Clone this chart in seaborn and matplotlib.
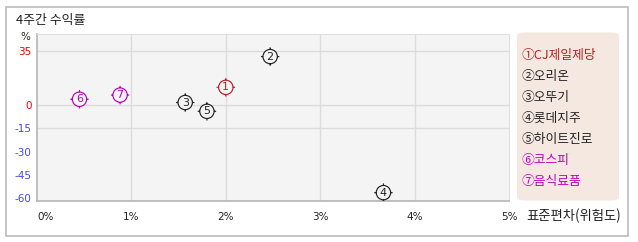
import matplotlib
matplotlib.use("Agg")
import matplotlib.pyplot as plt
import seaborn as sns
import pandas as pd
from matplotlib.path import Path
from matplotlib.patches import Rectangle, FancyBboxPatch

# ---- data ----
names = ["CJ제일제당", "오리온", "오뚜기", "롯데지주", "하이트진로", "코스피", "음식료품"]
nums = ["①", "②", "③", "④", "⑤", "⑥", "⑦"]
std_dev = [2.00, 2.47, 1.57, 3.67, 1.80, 0.45, 0.88]      # x, %
ret_4w = [11.5, 31.4, 1.7, -56.6, -4.0, 3.8, 6.5]          # y, %
colors = ["#b22222", "#222222", "#222222", "#222222", "#222222", "#bb00bb", "#bb00bb"]
legend_colors = ["#b82020", "#222222", "#222222", "#222222", "#222222", "#c000c0", "#c000c0"]
x_ticks = [0, 1, 2, 3, 4, 5]
x_ticklabels = ["0%", "1%", "2%", "3%", "4%", "5%"]
y_ticks = [35, 0, -15, -30, -45, -60]
y_ticklabels = ["35", "0", "-15", "-30", "-45", "-60"]
y_tick_colors = ["#ee0000", "#ee0000", "#4444ee", "#4444ee", "#4444ee", "#4444ee"]
grid_y = [35, 0, -15]
grid_x = [1, 2, 3, 4]

df = pd.DataFrame({"name": names, "num": nums, "x": std_dev, "y": ret_4w})

sns.set_theme(style="white")
KFONT = ["Noto Sans CJK KR", "DejaVu Sans"]
plt.rcParams["font.family"] = KFONT

W, H = 638, 242
fig = plt.figure(figsize=(W / 100, H / 100), dpi=100)

def fx(px):
    return px / W

def fy(py):
    return 1 - py / H

# outer frame
fig.patches.append(Rectangle((fx(6), fy(236)), fx(622), 229 / H, transform=fig.transFigure,
                             fill=False, ec="#bbbbbb", lw=1.2))

ax = fig.add_axes([fx(37), fy(201), 472 / W, 167 / H])
ax.set_facecolor("#f4f4f4")
ax.set_xlim(0, 5)
ax.set_ylim(-62, 46)
for g in grid_y:
    ax.axhline(g, color="#dcdcdc", lw=1, zorder=0)
for g in grid_x:
    ax.axvline(g, color="#dcdcdc", lw=1, zorder=0)
for s in ["top", "right"]:
    ax.spines[s].set_color("#e0e0e0")
    ax.spines[s].set_linewidth(0.8)
for s in ["left", "bottom"]:
    ax.spines[s].set_color("#b5b5b5")
    ax.spines[s].set_linewidth(1.2)

# marker: circle with four small ticks outside
circ = Path.unit_circle()
tv = [(0, 1.0), (0, 1.28), (0, -1.0), (0, -1.28), (1.0, 0), (1.28, 0), (-1.0, 0), (-1.28, 0)]
tc = [Path.MOVETO, Path.LINETO] * 4
ticks_path = Path(tv, tc)
marker_path = Path.make_compound_path(circ, ticks_path)

sns.scatterplot(data=df, x="x", y="y", hue="name", palette=colors, marker=marker_path,
                s=175, linewidth=0.85, legend=False, ax=ax, zorder=3)
coll = ax.collections[-1]
coll.set_edgecolors(colors)
coll.set_facecolors("#f4f4f4")

for i, r in enumerate(df.itertuples()):
    ax.text(r.x, r.y, str(i + 1), ha="center", va="center",
            fontsize=8, color=colors[i], family="DejaVu Sans", zorder=4)

ax.set_xticks(x_ticks)
ax.set_xticklabels(x_ticklabels, family="DejaVu Sans", fontsize=7.5, color="#222222")
ax.get_xticklabels()[0].set_ha("left")
ax.set_yticks(y_ticks)
ax.set_yticklabels(y_ticklabels, family="DejaVu Sans", fontsize=7.5)
for lab, c in zip(ax.get_yticklabels(), y_tick_colors):
    lab.set_color(c)
ax.tick_params(axis="both", length=0)
ax.tick_params(axis="x", pad=8)
ax.tick_params(axis="y", pad=4)
ax.set_xlabel("")
ax.set_ylabel("")

# texts
fig.text(fx(16), fy(20.5), "4주간 수익률", fontsize=9.3, va="center", ha="left", color="#222222")
fig.text(fx(25), fy(37), "%", fontsize=7.5, va="center", ha="center", color="#222222",
         family="DejaVu Sans")
fig.text(fx(621), fy(216), "표준편차(위험도)", fontsize=9.6, va="center", ha="right", color="#222222")

# legend box
fig.patches.append(FancyBboxPatch((fx(517), fy(200.5)), 102 / W, 168 / H,
                                  boxstyle="round,pad=0,rounding_size=0.012",
                                  transform=fig.transFigure, fc="#f5e8e1", ec="none"))
for i, (n, nm, c) in enumerate(zip(nums, names, legend_colors)):
    fig.text(fx(521.5), fy(55.7 + i * 20.9), n + nm, fontsize=9.2, va="center", ha="left", color=c)

fig.savefig("out.png", dpi=100)
